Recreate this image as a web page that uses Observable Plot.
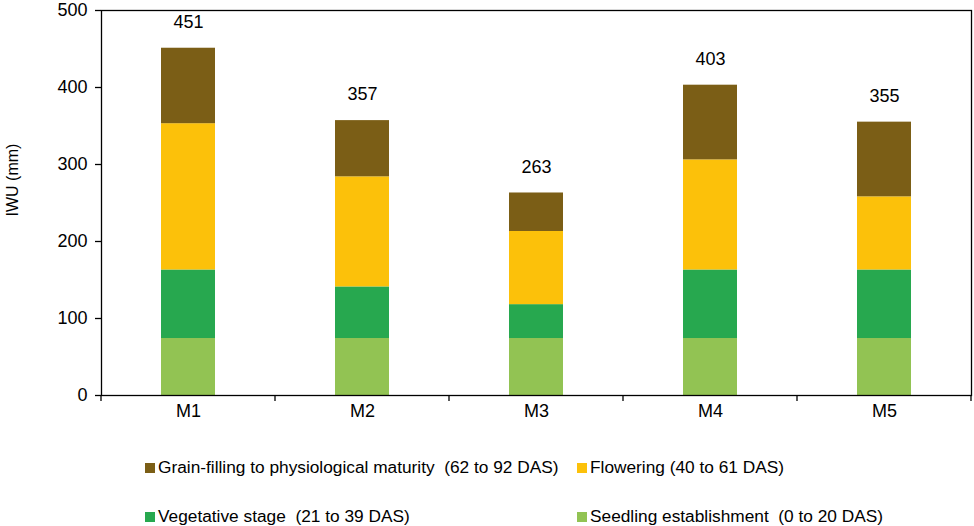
<!DOCTYPE html>
<html>
<head>
<meta charset="utf-8">
<script src="https://cdn.jsdelivr.net/npm/d3@7"></script>
<script src="https://cdn.jsdelivr.net/npm/@observablehq/plot@0.6"></script>
<style>
  html, body { margin: 0; padding: 0; background: #fff; }
  #wrap { position: relative; width: 974px; height: 526px; font-family: "Liberation Sans", Arial, sans-serif; }
  #chart svg { display: block; }
  .leg { position: absolute; display: flex; align-items: center; font-size: 17.3px; color: #000; white-space: pre; line-height: 1; }
  .sw { width: 10px; height: 10px; margin-right: 3px; flex: none; }
  #ylabel { position: absolute; left: 13px; top: 180px; transform: translate(-50%, -50%) rotate(-90deg); font-size: 16px; white-space: nowrap; line-height: 1; color: #000; }
</style>
</head>
<body>
<div id="wrap">
  <div id="chart"></div>
  <div id="ylabel"></div>
  <div id="legend"></div>
</div>
<script>
// ---- data ----
const categories = ["M1", "M2", "M3", "M4", "M5"];
const stages = [
  "Seedling establishment  (0 to 20 DAS)",
  "Vegetative stage  (21 to 39 DAS)",
  "Flowering (40 to 61 DAS)",
  "Grain-filling to physiological maturity  (62 to 92 DAS)"
];
const seedling   = [74, 74, 74, 74, 74];
const vegetative = [89, 67, 44, 89, 89];
const flowering  = [190, 143, 95, 143, 95];
const grainFill  = [98, 73, 50, 97, 97];
const totals     = [451, 357, 263, 403, 355];
const yTicks     = [0, 100, 200, 300, 400, 500];
const yLabel     = "IWU (mm)";
const stageColors = ["#92C353", "#27A84F", "#FCC10A", "#7B5E16"];

const seriesByStage = [seedling, vegetative, flowering, grainFill];
const rows = [];
categories.forEach((c, i) => {
  stages.forEach((s, k) => rows.push({cat: c, stage: s, value: seriesByStage[k][i]}));
});
const totalRows = categories.map((c, i) => ({cat: c, total: totals[i]}));

// ticks at the band boundaries, computed from the x scale
function boundaryTicks(index, scales, values, dims) {
  const x = scales.x;
  const dom = x.domain ? x.domain() : categories;
  let step = x.step ? x.step() : (x(dom[1]) - x(dom[0]));
  let bw = x.bandwidth ? x.bandwidth() : step * (1 - 0.69);
  const pos = dom.map(d => x(d) + bw / 2 - step / 2);
  pos.push(pos[pos.length - 1] + step);
  const y0 = dims.height - dims.marginBottom;
  const g = d3.create("svg:g").attr("stroke", "#000").attr("stroke-width", 1.3);
  pos.forEach(p => g.append("line").attr("x1", p).attr("x2", p).attr("y1", y0).attr("y2", y0 + 6));
  return g.node();
}

const plot = Plot.plot({
  width: 974,
  height: 432,
  marginLeft: 101,
  marginRight: 3,
  marginTop: 10,
  marginBottom: 37,
  style: {fontFamily: "'Liberation Sans', Arial, sans-serif", fontSize: "18px", color: "#000", background: "#fff"},
  x: {domain: categories, paddingInner: 0.69, paddingOuter: 0.345, label: null},
  y: {domain: [0, 500], label: null},
  color: {domain: stages, range: stageColors},
  marks: [
    Plot.barY(rows, {x: "cat", y: "value", fill: "stage", order: null}),
    Plot.text(totalRows, {x: "cat", y: "total", text: d => String(d.total), dy: -26, fontSize: 18, fill: "#000"}),
    Plot.frame({stroke: "#000", strokeWidth: 1.3}),
    Plot.axisY({ticks: yTicks, tickSize: 6, tickPadding: 8, fontSize: 18, label: null, strokeWidth: 1.3}),
    Plot.axisX({tickSize: 0, tickPadding: 9, fontSize: 18, label: null}),
    boundaryTicks
  ]
});
document.getElementById("chart").appendChild(plot);
document.getElementById("ylabel").textContent = yLabel;

// ---- legend (HTML below the SVG) ----
const legendItems = [
  {k: 3, left: 145, top: 468},
  {k: 2, left: 577, top: 468},
  {k: 1, left: 145, top: 517},
  {k: 0, left: 577, top: 517}
];
const legend = document.getElementById("legend");
legendItems.forEach(it => {
  const div = document.createElement("div");
  div.className = "leg";
  div.style.left = it.left + "px";
  div.style.top = (it.top - 9) + "px";
  div.style.height = "18px";
  const sw = document.createElement("span");
  sw.className = "sw";
  sw.style.background = stageColors[it.k];
  const tx = document.createElement("span");
  tx.textContent = stages[it.k];
  div.appendChild(sw);
  div.appendChild(tx);
  legend.appendChild(div);
});
</script>
</body>
</html>
